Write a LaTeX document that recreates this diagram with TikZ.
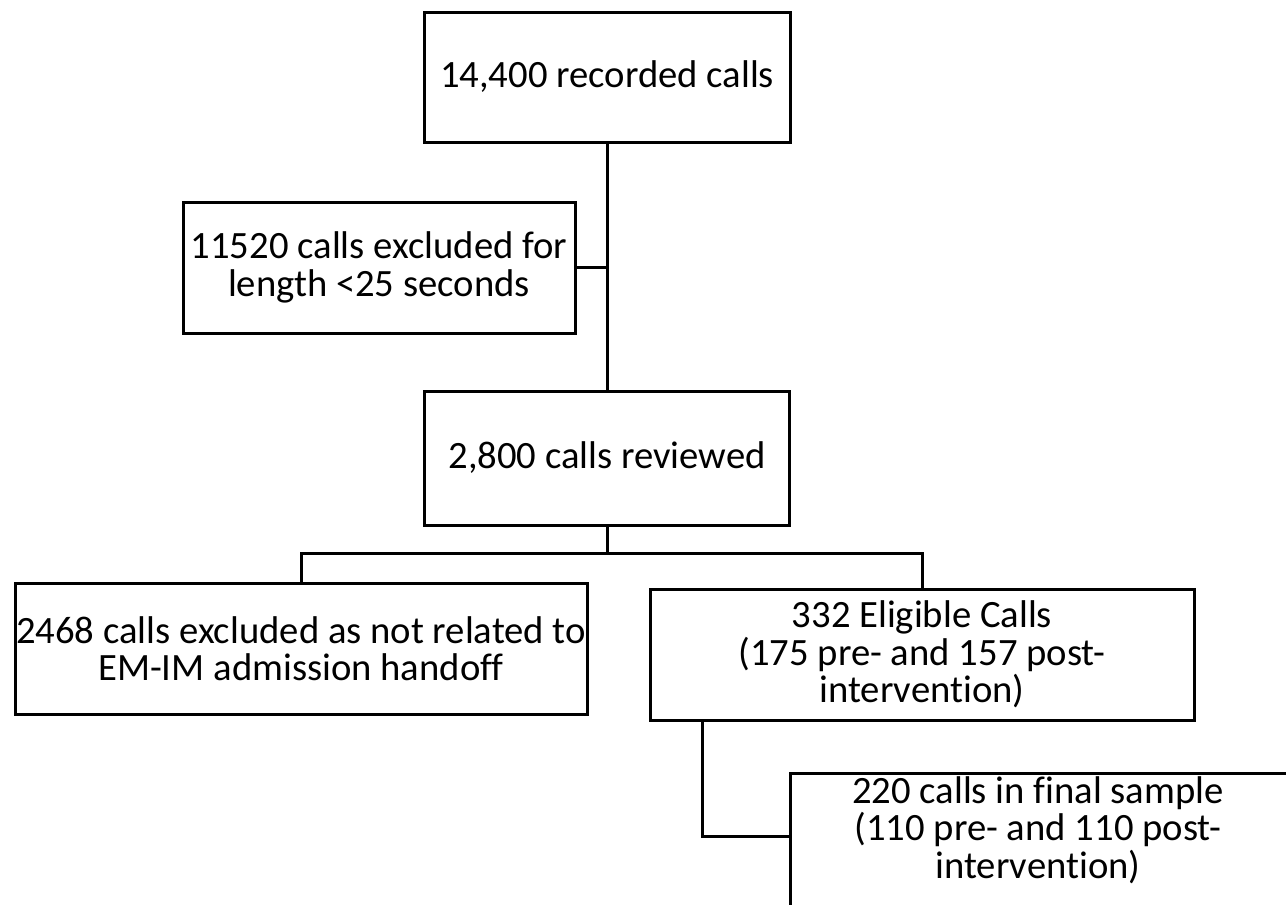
\documentclass[tikz,border=0pt]{standalone}
\usepackage{fontspec}
\setmainfont{Carlito}[Ligatures=NoCommon]
\begin{document}
\begin{tikzpicture}[x=0.75pt,y=-0.75pt,
  box/.style={draw=black, line width=2.25pt, fill=white, inner sep=0pt, align=center,
    font=\fontsize{29}{28}\selectfont},
  boxtext/.style={inner sep=0pt, align=center, font=\fontsize{29}{28}\selectfont},
  conn/.style={draw=black, line width=2.25pt}]
\useasboundingbox (0,0) rectangle (1286,904);
\clip (0,0) rectangle (1286,904);
\fill[white] (0,0) rectangle (1286,904);

\node[box, minimum width=274.5pt, minimum height=97.5pt] (box1) at (607,77) {14,400 recorded calls};
\node[box, minimum width=294pt, minimum height=98.25pt] (box2) at (379,267.5) {11520 calls excluded for\\length <25 seconds};
\node[box, minimum width=273.75pt, minimum height=100.5pt] (box3) at (607,458) {2,800 calls reviewed};
\node[box, minimum width=429pt, minimum height=98.25pt] (box4) at (301,648.5) {2468 calls excluded as not related to\\EM-IM admission handoff};
\node[box, minimum width=408pt, minimum height=98.25pt] (box5) at (922,654.5) {332 Eligible Calls\\(175 pre- and 157 post-\\intervention)};
\node[box, minimum width=382.5pt, minimum height=110.25pt] (box6) at (1045,846.5) {};
\node[boxtext] (box6t) at (1038,830) {220 calls in final sample\\(110 pre- and 110 post-\\intervention)};

\coordinate (br) at (607,553);
\draw[conn] (box1.south) -- (box3.north);
\draw[conn] (box2.east) -- (box2.east -| box1.south);
\draw[conn] (box3.south) -- (br);
\draw[conn] (box4.north) -- (box4.north |- br) -- (box5.north |- br) -- (box5.north);
\draw[conn] ([xshift=40.5pt]box5.south west) |- ([yshift=-48.75pt]box6.north west);
\end{tikzpicture}
\end{document}
